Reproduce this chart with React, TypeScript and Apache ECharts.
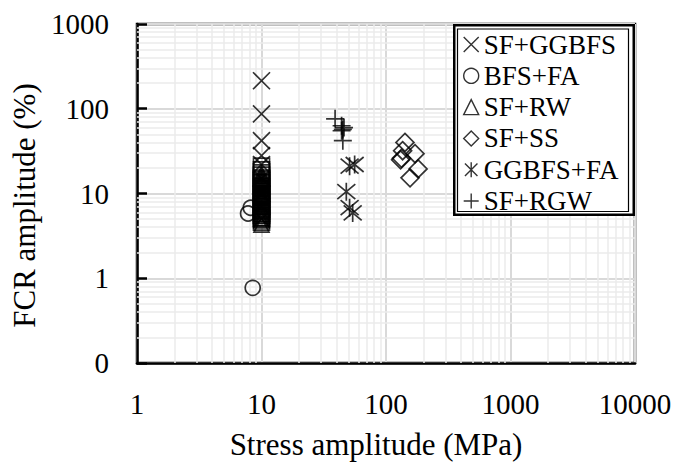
import React, { useEffect, useRef } from "react";
import * as echarts from "echarts";

// ---- data ----
const seriesNames = ["SF+GGBFS", "BFS+FA", "SF+RW", "SF+SS", "GGBFS+FA", "SF+RGW"];

const sfGgbfs: number[][] = [
  [10, 214], [10, 87], [10, 42], [10, 28], [10, 22], [10, 15], [10, 10], [10, 7], [10, 5],
];
const bfsFa: number[][] = [
  [8.5, 0.77], [7.8, 5.8], [8.2, 6.8], [10, 9], [10, 12],
];
const sfRw: number[][] = [
  [10, 17], [10, 16], [10, 15], [10, 14], [10, 13], [10, 12.2], [10, 11.5], [10, 10.8], [10, 10], [10, 9.5], [10, 9],
  [10, 8.5], [10, 8], [10, 7.5], [10, 7], [10, 6.6], [10, 6.2], [10, 5.8], [10, 5.5], [10, 5.1], [10, 4.8], [10, 4.3],
];
const sfSs: number[][] = [
  [142, 40], [136, 32], [171, 29.5], [131, 25], [133, 26], [181, 19.5], [156, 15.3],
];
const ggbfsFa: number[][] = [
  [51, 21], [56, 22], [48, 10.5], [51, 6.8], [54, 5.9],
];
const sfRgw: number[][] = [
  [39, 76], [44, 63], [46, 60], [45, 57], [44, 55], [45, 42],
];
const unlabeledSquares: number[][] = [
  [10, 21], [10, 19], [10, 17.5], [10, 16.5], [10, 15.2], [10, 14.5], [10, 13.5], [10, 13], [10, 12], [10, 11.5],
  [10, 10.6], [10, 10], [10, 9.4], [10, 9], [10, 8.4], [10, 8], [10, 7.4], [10, 7], [10, 6.5], [10, 6.2],
  [10, 5.8], [10, 5.5], [10, 5.2], [10, 5], [10, 4.6],
];

const xTickValues = [1, 10, 100, 1000, 10000];
const yTickValues = [0.1, 1, 10, 100, 1000];
const minorFactors = [2, 3, 4, 5, 6, 7, 8, 9];

const FONT = "Liberation Serif";

const SYM_X = "path://M0,0L10,10M10,0L0,10";
const SYM_AST = "path://M0,0L10,10M10,0L0,10M5,-1L5,11";
const SYM_PLUS = "path://M5,0L5,10M0,5L10,5";

export default function App() {
  const ref = useRef<HTMLDivElement>(null);

  useEffect(() => {
    if (!ref.current) return;
    const chart = echarts.init(ref.current, undefined, { renderer: "svg" });

    const xMinor: number[] = [];
    xTickValues.slice(0, -1).forEach((d) => minorFactors.forEach((f) => xMinor.push(d * f)));
    const yMinor: number[] = [];
    yTickValues.slice(0, -1).forEach((d) => minorFactors.forEach((f) => yMinor.push(+(d * f).toFixed(3))));

    const stroke = { color: "transparent", borderColor: "#000", borderWidth: 1.7 };

    const mk = (name: string, data: number[][], symbol: string, size: number) => ({
      type: "scatter",
      name,
      data,
      symbol,
      symbolSize: size,
      itemStyle: { ...stroke },
      z: 3,
      silent: true,
    });

    chart.setOption({
      animation: false,
      textStyle: { fontFamily: FONT, color: "#000" },
      grid: {
        left: 137,
        right: 43,
        top: 24,
        bottom: 104,
        show: true,
        borderColor: "#000",
        borderWidth: 2.5,
        backgroundColor: "transparent",
      },
      xAxis: {
        type: "log",
        logBase: 10,
        min: 1,
        max: 10000,
        name: "Stress amplitude (MPa)",
        nameLocation: "middle",
        nameGap: 66,
        nameTextStyle: { fontSize: 31, color: "#000", fontFamily: FONT, padding: [0, 20, 0, 0] },
        axisLine: { show: true, onZero: false, lineStyle: { color: "#000", width: 2.5 } },
        axisTick: { show: false },
        axisLabel: {
          fontSize: 29,
          color: "#000",
          fontFamily: FONT,
          margin: 26,
          formatter: (v: number) => String(Math.round(v)),
        },
        splitLine: { show: true, lineStyle: { color: "#d9d9d9", width: 2 } },
      },
      yAxis: {
        type: "log",
        logBase: 10,
        min: 0.1,
        max: 1000,
        name: "FCR amplitude (%)",
        nameLocation: "middle",
        nameGap: 93,
        nameTextStyle: { fontSize: 31, color: "#000", fontFamily: FONT, padding: [0, 24, 0, 0] },
        axisLine: { show: true, onZero: false, lineStyle: { color: "#000", width: 2.5 } },
        axisTick: { show: true, inside: true, length: 10, lineStyle: { color: "#000", width: 2.5 } },
        axisLabel: {
          fontSize: 29,
          color: "#000",
          fontFamily: FONT,
          margin: 28,
          formatter: (v: number) => (v < 1 ? "0" : String(Math.round(v))),
        },
        splitLine: { show: true, lineStyle: { color: "#d9d9d9", width: 2 } },
      },
      legend: {
        data: seriesNames,
        orient: "vertical",
        left: 463,
        top: 31,
        padding: 0,
        itemWidth: 15,
        itemHeight: 15,
        itemGap: 4.3,
        z: 12,
        textStyle: { fontSize: 27, color: "#000", fontFamily: FONT },
        itemStyle: { color: "transparent", borderColor: "#000", borderWidth: 1.4 },
      },
      graphic: {
        z: 10,
        elements: [
          {
            type: "rect",
            z: 10,
            shape: { x: 454.25, y: 25.25, width: 179.5, height: 189.5 },
            style: { fill: "#fff", stroke: "#000", lineWidth: 2.5 },
          },
          {
            type: "rect",
            z: 10,
            shape: { x: 457.5, y: 29, width: 171, height: 182.5 },
            style: { fill: "none", stroke: "#000", lineWidth: 1.2 },
          },
        ],
      },
      series: [
        {
          type: "scatter",
          name: "minor-grid",
          data: [],
          z: 1,
          silent: true,
          markLine: {
            z: 1,
            silent: true,
            symbol: ["none", "none"],
            label: { show: false },
            lineStyle: { color: "#ebebeb", width: 1.5, type: "solid" },
            data: [
              ...xMinor.map((v) => ({ xAxis: v })),
              ...yMinor.map((v) => ({ yAxis: v })),
            ],
          },
        },
        mk("squares", unlabeledSquares, "rect", 16),
        mk(seriesNames[0], sfGgbfs, SYM_X, 17),
        mk(seriesNames[1], bfsFa, "circle", 15),
        mk(seriesNames[2], sfRw, "triangle", 15),
        mk(seriesNames[3], sfSs, "diamond", 18),
        mk(seriesNames[4], ggbfsFa, SYM_AST, 18),
        mk(seriesNames[5], sfRgw, SYM_PLUS, 18),
      ],
    });

    return () => chart.dispose();
  }, []);

  return <div ref={ref} style={{ width: 678, height: 467, position: "absolute", left: 0, top: 0 }} />;
}
